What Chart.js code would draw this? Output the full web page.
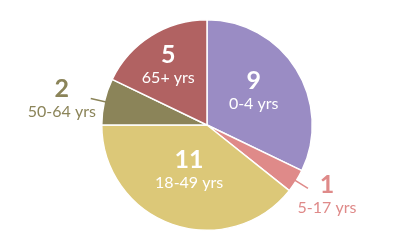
<!DOCTYPE html>
<html>
<head>
<meta charset="utf-8">
<script src="https://cdn.jsdelivr.net/npm/chart.js@4"></script>
<style>
html,body{margin:0;padding:0;background:#fff;}
#wrap{width:400px;height:250px;position:relative;}
</style>
</head>
<body>
<div id="wrap"><canvas id="c"></canvas></div>
<script>
const categories = ["0-4 yrs", "5-17 yrs", "18-49 yrs", "50-64 yrs", "65+ yrs"];
const values = [9, 1, 11, 2, 5];
const colors = ["#9a8cc4", "#df8a89", "#dcc878", "#8b8459", "#b16262"];

// label placement style: inside (radius fraction) or outside (with leader line)
const labelStyle = [
  {inside: true, r: 0.545, angOff: -3.4},
  {inside: false, r: 1.325, angOff: -1.5},
  {inside: true, r: 0.47, angOff: 1.9},
  {inside: false, r: 1.40, angOff: -2.9},
  {inside: true, r: 0.675, angOff: -0.9}
];

const labelPlugin = {
  id: 'sliceLabels',
  afterDatasetsDraw(chart) {
    const ctx = chart.ctx;
    const meta = chart.getDatasetMeta(0);
    meta.data.forEach((arc, i) => {
      const p = arc.getProps(['x','y','startAngle','endAngle','outerRadius'], true);
      const st = labelStyle[i];
      const mid = (p.startAngle + p.endAngle) / 2 + (st.angOff || 0) * Math.PI / 180;
      const R = p.outerRadius;
      let cx = p.x + Math.cos(mid) * R * st.r;
      let cy = p.y + Math.sin(mid) * R * st.r;
      let col = '#ffffff';
      if (!st.inside) {
        col = colors[i];
        const a = (p.startAngle + p.endAngle) / 2;
        ctx.save();
        ctx.strokeStyle = colors[i];
        ctx.lineWidth = 1.5;
        ctx.beginPath();
        ctx.moveTo(p.x + Math.cos(a) * (R - 4), p.y + Math.sin(a) * (R - 4));
        ctx.lineTo(p.x + Math.cos(a) * (R + 14), p.y + Math.sin(a) * (R + 14));
        ctx.stroke();
        ctx.restore();
      }
      ctx.save();
      ctx.fillStyle = col;
      ctx.textAlign = 'center';
      ctx.textBaseline = 'middle';
      ctx.font = 'bold 25px Lato';
      ctx.fillText(String(values[i]), cx, cy - 11);
      ctx.font = '16px Lato';
      ctx.fillText(categories[i], cx, cy + 12);
      ctx.restore();
    });
  }
};

new Chart(document.getElementById('c'), {
  type: 'pie',
  data: {
    labels: categories,
    datasets: [{
      data: values,
      backgroundColor: colors,
      borderColor: '#ffffff',
      borderWidth: 1.5
    }]
  },
  options: {
    responsive: true,
    maintainAspectRatio: false,
    animation: false,
    layout: {padding: {top: 19, bottom: 19, left: 14, right: 0}},
    plugins: {legend: {display: false}, tooltip: {enabled: false}}
  },
  plugins: [labelPlugin]
});
</script>
</body>
</html>
